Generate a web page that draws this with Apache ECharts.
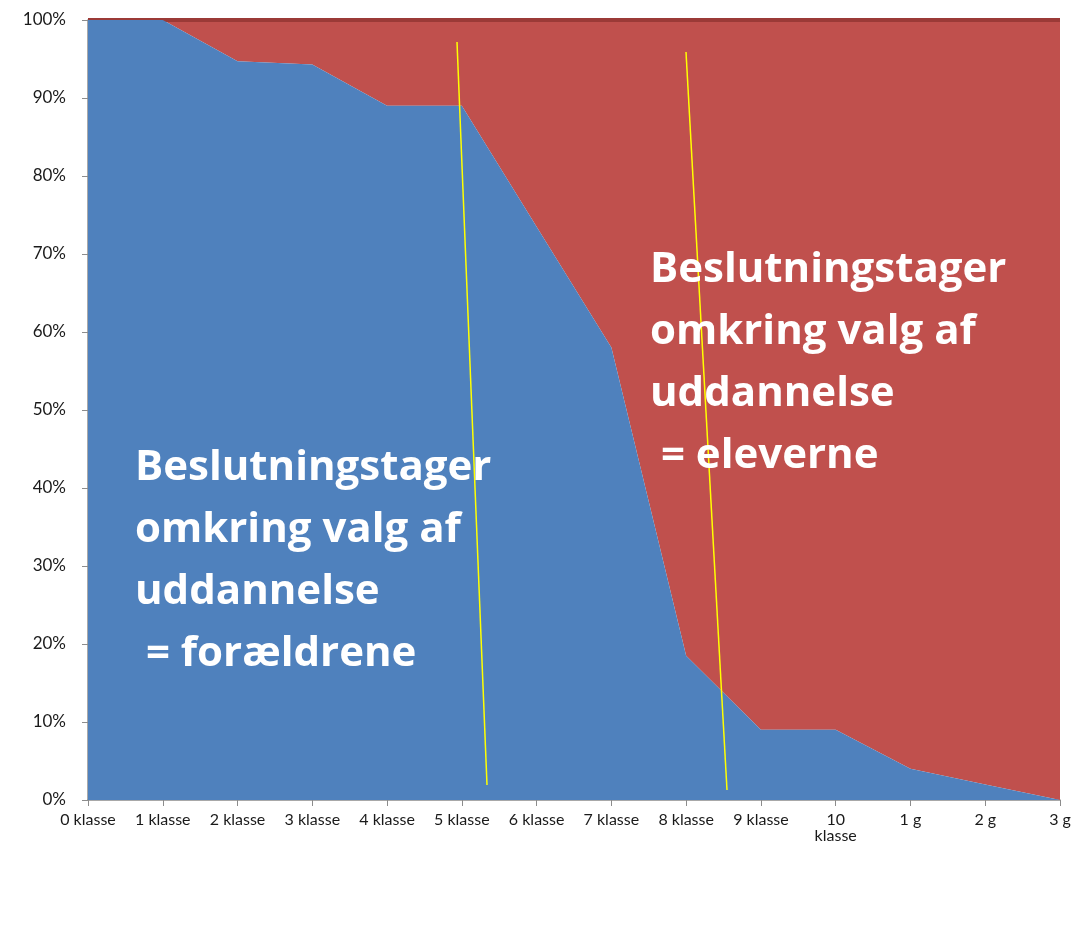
<!DOCTYPE html>
<html>
<head>
<meta charset="utf-8">
<script src="https://cdn.jsdelivr.net/npm/echarts@6/dist/echarts.min.js"></script>
<style>
html,body{margin:0;padding:0;background:#fff;}
#chart{width:1092px;height:942px;}
</style>
</head>
<body>
<div id="chart"></div>
<script>
const categories = ['0 klasse','1 klasse','2 klasse','3 klasse','4 klasse','5 klasse','6 klasse','7 klasse','8 klasse','9 klasse','10 klasse','1 g','2 g','3 g'];
const parentsShare = [100, 100, 94.7, 94.3, 89, 89, 73.5, 58, 18.5, 9, 9, 4, 2, 0];
const studentsShare = [0, 0, 5.3, 5.7, 11, 11, 26.5, 42, 81.5, 91, 91, 96, 98, 100];
const yTicks = { min: 0, max: 100, interval: 10 };
const leftText = 'Beslutningstager\nomkring valg af\nuddannelse\n = forældrene';
const rightText = 'Beslutningstager\nomkring valg af\nuddannelse\n = eleverne';

const chart = echarts.init(document.getElementById('chart'), null, { renderer: 'canvas' });
const axisGray = '#8c8c8c';
const option = {
  backgroundColor: '#ffffff',
  animation: false,
  grid: { left: 88, right: 32, top: 20, bottom: 142 },
  xAxis: {
    type: 'category',
    data: categories,
    boundaryGap: false,
    axisLine: { show: true, lineStyle: { color: axisGray, width: 1.5 } },
    axisTick: { show: true, length: 6, interval: 0, lineStyle: { color: axisGray } },
    axisLabel: {
      interval: 0, hideOverlap: false,
      color: '#1a1a1a', fontFamily: 'Lato', fontSize: 16, margin: 12,
      formatter: v => v === '10 klasse' ? '10\nklasse' : v
    },
    splitLine: { show: false }
  },
  yAxis: {
    type: 'value',
    min: yTicks.min, max: yTicks.max, interval: yTicks.interval,
    axisLine: { show: true, lineStyle: { color: axisGray, width: 1.5 } },
    axisTick: { show: true, length: 6, lineStyle: { color: axisGray } },
    axisLabel: { color: '#1a1a1a', fontFamily: 'Lato', fontSize: 17, margin: 22, formatter: '{value}%' },
    splitLine: { show: false }
  },
  series: [
    {
      name: 'Forældrene',
      type: 'line',
      stack: 'total',
      data: parentsShare,
      symbol: 'none',
      lineStyle: { width: 0 },
      areaStyle: { color: '#4F81BD', opacity: 1 },
      z: 2
    },
    {
      name: 'Eleverne',
      type: 'line',
      stack: 'total',
      data: studentsShare,
      symbol: 'none',
      lineStyle: { width: 4, color: '#9B3A37' },
      areaStyle: { color: '#C0504D', opacity: 1 },
      z: 1
    }
  ],
  graphic: [
    { type: 'line', shape: { x1: 457, y1: 42, x2: 487, y2: 785 }, style: { stroke: '#FFFF00', lineWidth: 1.5 }, z: 100 },
    { type: 'line', shape: { x1: 686, y1: 52, x2: 727, y2: 790 }, style: { stroke: '#FFFF00', lineWidth: 1.5 }, z: 100 },
    { type: 'text', left: 135, top: 437, z: 101,
      style: { text: leftText, fill: '#ffffff', font: 'bold 42px "Open Sans"', lineHeight: 62 } },
    { type: 'text', left: 650, top: 239, z: 101,
      style: { text: rightText, fill: '#ffffff', font: 'bold 42px "Open Sans"', lineHeight: 62 } }
  ]
};
chart.setOption(option);
</script>
</body>
</html>
